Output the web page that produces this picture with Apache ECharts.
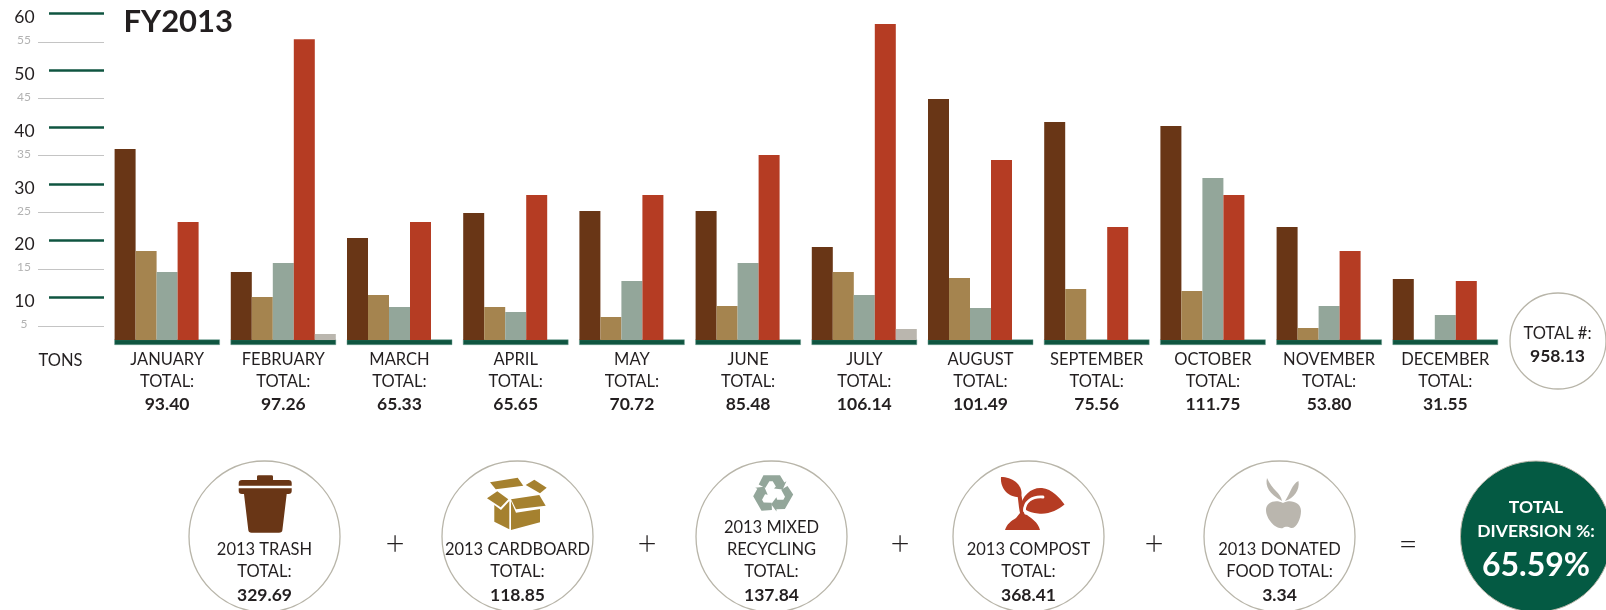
<!DOCTYPE html>
<html>
<head>
<meta charset="utf-8">
<style>html,body{margin:0;padding:0;background:#fff;overflow:hidden}#c{width:1606px;height:610px}</style>
<script src="https://cdn.jsdelivr.net/npm/echarts@6/dist/echarts.min.js"></script>
</head>
<body>
<div id="c"></div>
<script>
const months = ['JANUARY','FEBRUARY','MARCH','APRIL','MAY','JUNE','JULY','AUGUST','SEPTEMBER','OCTOBER','NOVEMBER','DECEMBER'];
const monthTotals = ['93.40','97.26','65.33','65.65','70.72','85.48','106.14','101.49','75.56','111.75','53.80','31.55'];
const trash     = [36.15,14.48,20.47,24.87,25.22,25.22,18.88,44.95,40.9,40.2,22.41,13.25];
const cardboard = [18.18,10.07,10.43,8.31,6.55,8.49,14.48,13.42,11.48,11.13,4.61,null];
const mixed     = [14.48,16.06,8.31,7.43,12.89,16.06,10.43,8.14,null,31.04,8.49,6.9];
const compost   = [23.29,55.5,23.29,28.04,28.04,35.09,58.17,34.21,22.41,28.04,18.18,12.89];
const food      = [null,3.56,null,null,null,null,4.44,null,null,null,null,null];
const majorTicks = [10,20,30,40,50,60];
const minorTicks = [5,15,25,35,45,55];
const seriesNames = ['Trash','Cardboard','Mixed Recycling','Compost','Donated Food'];
const seriesColors = ['#693616','#a5844f','#93a69a','#b53c23','#bab6ae'];
const FONT = 'Lato';
const INK = '#231f20';
const GREEN = '#0f5540';

const chart = echarts.init(document.getElementById('c'), null, {renderer:'canvas', width:1606, height:610});

function label(text, x, y, size, bold, fill, weight) {
  return {type:'text', silent:true, x, y:y+1, style:{text, fontFamily:FONT, fontSize:size, fontWeight:weight||(bold?'bold':'normal'),
    fill:fill||INK, align:'center', verticalAlign:'middle'}};
}
function ring(cx, cy, r, fill, stroke) {
  return {type:'circle', silent:true, shape:{cx, cy, r}, style:{fill:fill||'#fff', stroke:stroke||'#b8b5a9', lineWidth:1.3}};
}
function poly(points, fill) {
  return {type:'polygon', silent:true, shape:{points}, style:{fill}};
}
function path(d, style) {
  return {type:'path', shape:{pathData:d}, style};
}

const circleGroups = [
  {cx:264.5, lines:[['2013 TRASH',549,false],['TOTAL:',571,false],['329.69',594,true]]},
  {cx:517.5, lines:[['2013 CARDBOARD',549,false],['TOTAL:',571,false],['118.85',594,true]]},
  {cx:771.5, lines:[['2013 MIXED',527,false],['RECYCLING',549,false],['TOTAL:',571,false],['137.84',594,true]]},
  {cx:1028.5,lines:[['2013 COMPOST',549,false],['TOTAL:',571,false],['368.41',594,true]]},
  {cx:1279.5,lines:[['2013 DONATED',549,false],['FOOD TOTAL:',571,false],['3.34',594,true]]}
];
const operators = [['+',395],['+',647],['+',900],['+',1154],['=',1408]];

const g = [];
g.push({type:'text', silent:true, x:123.5, y:21.5, style:{text:'FY2013', fontFamily:FONT, fontSize:31, fontWeight:'bold', fill:INK, align:'left', verticalAlign:'middle'}});
g.push(label('TONS', 60.5, 359.5, 16.5, false));
g.push(ring(1558, 341, 48));
g.push(label('TOTAL #:', 1557.5, 333, 16.5, false));
g.push(label('958.13', 1557.5, 355.5, 17.5, true));
circleGroups.forEach(c => {
  g.push(ring(c.cx, 536.5, 75.5));
  c.lines.forEach(l => g.push(label(l[0], c.cx, l[1], l[2]?17.5:16.5, l[2])));
});
operators.forEach(o => g.push(label(o[0], o[1], 543, 33, false, INK, 300)));
g.push({type:'circle', silent:true, shape:{cx:1536, cy:536.5, r:75.5}, style:{fill:'#045a43', stroke:'#b8b5a9', lineWidth:1}});
g.push(label('TOTAL', 1536, 506.5, 17.5, true, '#fff'));
g.push(label('DIVERSION %:', 1536, 530, 17.5, true, '#fff'));
g.push(label('65.59%', 1536, 564.5, 32, true, '#fff'));

// icons drawn by a custom series so that SVG paths can be used
const T = seriesColors[0], B = '#a5812f', C = seriesColors[3], A = seriesColors[4];
const icons = [
  path('M257 480 V476.5 Q257 475.3 258.5 475.3 H271.5 Q273 475.3 273 476.5 V480 H288.5 Q291.7 480 291.7 483 V485.7 H238.7 V483 Q238.7 480 242 480 Z', {fill:T}),
  path('M238.7 488.3 H291.7 V491 Q291.7 494 288.5 494 H286.7 L282.4 530 Q282.2 532.7 279 532.7 H251.5 Q248.6 532.7 248.3 530 L244 494 H242 Q238.7 494 238.7 491 Z', {fill:T}),
  poly([[490,482.3],[517.7,477.7],[523.3,485.7],[495.7,489.3]], B),
  poly([[534.3,479.7],[546.7,487.7],[540,493.3],[525.7,485]], B),
  poly([[497.3,491.3],[508.3,499.3],[500.7,507.3],[487,498.3]], B),
  poly([[511,499.3],[539.3,495],[545.7,505.7],[516,509.3]], B),
  poly([[494.3,505],[501,510],[509.3,501],[509.3,529.3],[494.3,521.7]], B),
  poly([[511,501],[516,512.7],[540,509],[540,522.3],[511,530]], B),
  path('M1001 477 C1012 477 1022 484 1021.5 494 L1020.5 497 C1010 498 1000 490 1001 477 Z', {fill:C}),
  path('M1020 508 C1022 495 1032 487 1042 488 C1052 489 1060 498 1064.5 504.5 C1058 510 1048 515 1038 513.5 C1033 513 1029 512 1026 510 Z', {fill:C}),
  path('M1019 494 C1021 500 1020 508 1023 516', {stroke:C, lineWidth:4, fill:'none'}),
  path('M1024.5 511 C1024 502 1032 496 1043 497', {stroke:'#fff', lineWidth:2.8, fill:'none', lineCap:'round'}),
  path('M1005 530 C1007 524 1011 521 1016 518 L1020 513 L1027 515 C1031 518 1038 522 1040 530 Z', {fill:C}),
  path('M1283 503 C1290 499 1301 502 1301 511 C1301 519 1296 529 1291 528 C1288 527 1286 526 1283 528 C1276 530 1266 519 1266 510 C1266 502 1276 499 1283 503 Z', {fill:A}),
  path('M1267 478 C1265 486 1269 494 1282 501 C1281 493 1272 490 1267 478 Z', {fill:A}),
  path('M1298.5 481 C1292 484 1291 492 1285 501 C1294 498 1300 490 1298.5 481 Z', {fill:A})
];
[0,120,240].forEach(deg => {
  icons.push({type:'polygon', x:772.7, y:493.5, rotation:deg*Math.PI/180,
    shape:{points:[[-9.3,-18.3],[7.3,-18.3],[11.7,-11],[13.7,-12.3],[10,-4],[1.3,-5],[3.2,-7],[0,-12.3],[-3.3,-12.3],[-7.5,-5.5],[-14,-9]]},
    style:{fill:seriesColors[2]}});
});
const iconSeries = {
  type:'custom', name:'Icons', coordinateSystem:'none', silent:true, clip:false, z:5, data:[[0]],
  renderItem() { return {type:'group', children:icons}; }
};

const bars = [trash,cardboard,mixed,compost,food].map((d,i) => ({
  type:'bar', name:seriesNames[i], data:d, barWidth:21, barGap:0, itemStyle:{color:seriesColors[i]}, z:3, silent:true
}));
const baseStrip = {
  type:'custom', name:'Baseline', coordinateSystem:'cartesian2d', clip:false, silent:true, z:2,
  data: months.map((m,i) => [i, 2.5]),
  encode:{x:0,y:1},
  renderItem(params, api) {
    const p = api.coord([api.value(0), api.value(1)]);
    const band = api.size([1,0])[0];
    const w = band * 105 / 116.2;
    return {type:'rect', shape:{x:p[0]-w/2, y:p[1]-0.3, width:w, height:5}, style:{fill:GREEN, stroke:'#6f9e90', lineWidth:0.5}};
  }
};

chart.setOption({
  animation:false,
  backgroundColor:'#fff',
  textStyle:{fontFamily:FONT},
  grid:{left:109, right:102.6, top:13.6, bottom:270, containLabel:false},
  xAxis:{
    type:'category', data:months, axisLine:{show:false}, axisTick:{show:false},
    axisLabel:{
      interval:0, margin:9, align:'center',
      formatter:(v,i) => `{m|${v}}\n{m|TOTAL:}\n{b|${monthTotals[i]}}`,
      rich:{
        m:{fontFamily:FONT, fontSize:16.5, color:INK, lineHeight:22, align:'center'},
        b:{fontFamily:FONT, fontSize:17.5, fontWeight:'bold', color:INK, lineHeight:22, align:'center'}
      }
    }
  },
  yAxis:[
    {type:'value', min:2.5, max:60, interval:2.5, position:'left', offset:5, splitLine:{show:false},
     axisLine:{show:false},
     axisTick:{show:true, length:55, customValues:majorTicks, lineStyle:{color:GREEN, width:2.6}},
     axisLabel:{customValues:majorTicks, margin:79.5, align:'center', verticalAlign:'middle', hideOverlap:false, showMinLabel:true, showMaxLabel:true,
       formatter:v=>`{t|${v}}`,
       rich:{t:{fontFamily:FONT, fontSize:17.5, color:INK, padding:[8,0,0,0], align:'center'}}}},
    {type:'value', min:2.5, max:60, interval:2.5, position:'left', offset:5, splitLine:{show:false},
     axisLine:{show:false},
     axisTick:{show:true, length:66, customValues:minorTicks, lineStyle:{color:'#c4c4c4', width:1.2}},
     axisLabel:{customValues:minorTicks, margin:80, align:'center', verticalAlign:'middle',
       formatter:v=>`{t|${v}}`,
       rich:{t:{fontFamily:FONT, fontSize:12, color:'#b2b2b2', padding:[0,0,3,0], align:'center'}}}}
  ],
  series:[...bars, baseStrip, iconSeries],
  graphic:{elements:g}
});
</script>
</body>
</html>
